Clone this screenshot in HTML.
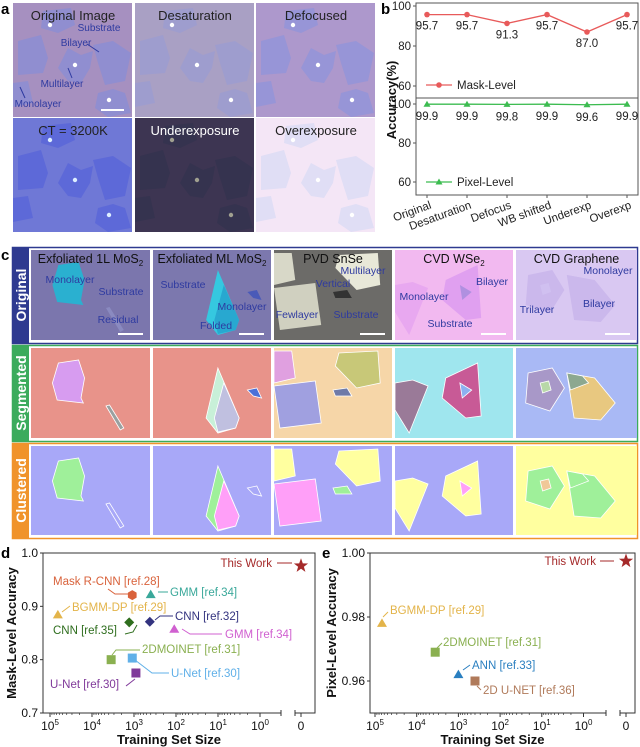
<!DOCTYPE html>
<html><head><meta charset="utf-8"><style>
html,body{margin:0;padding:0;background:#fff;}
svg{display:block;font-family:"Liberation Sans",Arial,sans-serif;}
</style></head><body>
<svg id="fig" width="640" height="747" viewBox="0 0 640 747" xmlns="http://www.w3.org/2000/svg">
<g id="pa"></g>
<g id="pb"></g>
<g id="pc"></g>
<g id="pd"></g>
<g id="pe"></g>
</svg>
<script>
// ---- Panel b data ----
const bCategories = ["Original","Desaturation","Defocus","WB shifted","Underexp","Overexp"];
const bMask = [95.7,95.7,91.3,95.7,87.0,95.7];
const bPixel = [99.9,99.9,99.8,99.9,99.6,99.9];
const bTicks = [60,80,100];
// ---- Panel d data ----
const dNames = ["This Work","Mask R-CNN [ref.28]","GMM [ref.34]","BGMM-DP [ref.29]","CNN [ref.35]","CNN [ref.32]","GMM [ref.34]","2DMOINET [ref.31]","U-Net [ref.30]","U-Net [ref.30]"];
const dSizes = [0,1100,400,65000,1300,420,110,3500,1100,900];
const dAcc = [0.976,0.921,0.922,0.884,0.870,0.871,0.857,0.800,0.803,0.775];
const dYTicks = [0.7,0.8,0.9,1.0];
// ---- Panel e data ----
const eNames = ["This Work","BGMM-DP [ref.29]","2DMOINET [ref.31]","ANN [ref.33]","2D U-NET [ref.36]"];
const eSizes = [0,68000,3600,1000,400];
const eAcc = [0.9975,0.978,0.969,0.962,0.960];
const eYTicks = [0.96,0.98,1.00];
const xExponents = [5,4,3,2,1,0];

const NS="http://www.w3.org/2000/svg";
function el(parent,tag,attrs,text){const e=document.createElementNS(NS,tag);for(const k in attrs)e.setAttribute(k,attrs[k]);if(text!==undefined)e.textContent=text;parent.appendChild(e);return e;}

// ============ Panel a ============
const pa=document.getElementById('pa');
let t=el(pa,'text',{x:1,y:14,'font-size':15,'font-weight':'bold'},'a');


const aImgs=[
 {x:13,y:3,bg:'#a690c0',fl:'#8c8ed2',dot:'#ffffff',lab:'Original Image',tc:'#222'},
 {x:135,y:3,bg:'#a9a0c4',fl:'#9c9cd0',dot:'#ffffff',lab:'Desaturation',tc:'#222'},
 {x:256,y:3,bg:'#ad98cc',fl:'#9394d8',dot:'#ffffff',lab:'Defocused',tc:'#222'},
 {x:13,y:118,bg:'#6f78d6',fl:'#5a66d8',dot:'#ddeeff',lab:'CT = 3200K',tc:'#222'},
 {x:135,y:118,bg:'#3d3552',fl:'#34334f',dot:'#a0a090',lab:'Underexposure',tc:'#fff'},
 {x:256,y:118,bg:'#f4e6f6',fl:'#dcdcf4',dot:'#ffffff',lab:'Overexposure',tc:'#222'}];
const flakes=[
 [[30,8],[58,5],[62,22],[45,30],[28,25]],
 [[5,38],[28,32],[35,55],[30,70],[5,72]],
 [[55,45],[68,52],[80,48],[77,65],[68,80],[55,78],[45,65]],
 [[80,42],[100,38],[118,50],[112,78],[92,82],[85,60]],
 [[85,90],[100,86],[112,90],[118,110],[95,114],[82,105]],
 [[0,80],[15,78],[20,100],[0,104]]];
const dots=[[37,22],[62,62],[96,97]];
aImgs.forEach((im,i)=>{
 const g=el(pa,'g',{transform:`translate(${im.x},${im.y})`});
 
 
 el(g,'rect',{x:0,y:0,width:119,height:114,fill:im.bg});
 flakes.forEach(f=>el(g,'polygon',{points:f.map(p=>p.join(',')).join(' '),fill:im.fl,opacity:0.85}));
 dots.forEach(d=>el(g,'circle',{cx:d[0],cy:d[1],r:2.2,fill:im.dot}));
 const lt=el(g,'text',{x:60,y:17,'text-anchor':'middle','font-size':13,fill:im.tc},im.lab);
 
 
});
[['Substrate',99,31],['Bilayer',76,46],['Multilayer',62,87],['Monolayer',38,107]].forEach(a=>{
 const tt=el(pa,'text',{x:a[1],y:a[2],'text-anchor':'middle','font-size':10,fill:'#2e3aa0'},a[0]);
 
 
});
el(pa,'line',{x1:87,y1:44,x2:99,y2:52,stroke:'#2e3aa0','stroke-width':1});
el(pa,'line',{x1:68,y1:68,x2:72,y2:78,stroke:'#2e3aa0','stroke-width':1});
el(pa,'line',{x1:20,y1:87,x2:25,y2:98,stroke:'#2e3aa0','stroke-width':1});
el(pa,'rect',{x:101,y:109,width:23,height:2,fill:'#fff'});

// ============ Panel b ============
const pb=document.getElementById('pb');
const bL=416,bR=638,bTop=3,bMid=98,bBot=195;
const bx=i=>427+i*40;
const byTop=v=>6+(100-v)*2;
const byBot=v=>104+(100-v)*1.95;
t=el(pb,'text',{x:381,y:14,'font-size':15,'font-weight':'bold'},'b');


el(pb,'rect',{x:bL,y:bTop,width:bR-bL,height:bBot-bTop,fill:'none',stroke:'#555','stroke-width':1});
el(pb,'line',{x1:bL,y1:bMid,x2:bR,y2:bMid,stroke:'#555','stroke-width':1});
bTicks.forEach(v=>{
 [[byTop(v)],[byBot(v)]].forEach(([y])=>{
  el(pb,'line',{x1:bL-3,y1:y,x2:bL,y2:y,stroke:'#555'});
  const tl=el(pb,'text',{x:bL-5,y:y+4,'text-anchor':'end','font-size':11.5,fill:'#222'},v);
  
  
 });
});
t=el(pb,'text',{x:0,y:0,transform:'translate(396,100) rotate(-90)','text-anchor':'middle','font-size':13,'font-weight':'bold',fill:'#111'},'Accuracy(%)');


bCategories.forEach((c,i)=>{
 el(pb,'line',{x1:bx(i),y1:bBot,x2:bx(i),y2:bBot+3,stroke:'#555'});
 const tl=el(pb,'text',{x:0,y:0,transform:`translate(${bx(i)+5},${bBot+13}) rotate(-20)`,'text-anchor':'end','font-size':11.5,fill:'#222'},c);
 
 
});
el(pb,'polyline',{points:bMask.map((v,i)=>bx(i)+','+byTop(v)).join(' '),fill:'none',stroke:'#e85a5a','stroke-width':1.3});
bMask.forEach((v,i)=>{
 const c=el(pb,'circle',{cx:bx(i),cy:byTop(v),r:2.8,fill:'#e85a5a'});
 
 
 const tl=el(pb,'text',{x:bx(i),y:byTop(v)+15,'text-anchor':'middle','font-size':11.5,fill:'#222'},v.toFixed(1));
 
 
});
el(pb,'polyline',{points:bPixel.map((v,i)=>bx(i)+','+byBot(v)).join(' '),fill:'none',stroke:'#3cbc50','stroke-width':1.3});
bPixel.forEach((v,i)=>{
 const x=bx(i),y=byBot(v);
 const p=el(pb,'polygon',{points:`${x},${y-3.5} ${x+3.5},${y+2.5} ${x-3.5},${y+2.5}`,fill:'#3cbc50'});
 
 
 const tl=el(pb,'text',{x:x,y:y+16,'text-anchor':'middle','font-size':11.5,fill:'#222'},v.toFixed(1));
 
 
});
let lg=el(pb,'g',{});


el(lg,'line',{x1:426,y1:85,x2:452,y2:85,stroke:'#e85a5a','stroke-width':1.3});
el(lg,'circle',{cx:439,cy:85,r:2.8,fill:'#e85a5a'});
el(lg,'text',{x:457,y:89,'font-size':11.5,fill:'#222'},'Mask-Level');
lg=el(pb,'g',{});


el(lg,'line',{x1:426,y1:182,x2:452,y2:182,stroke:'#3cbc50','stroke-width':1.3});
el(lg,'polygon',{points:'439,178.5 442.5,184.5 435.5,184.5',fill:'#3cbc50'});
el(lg,'text',{x:457,y:186,'font-size':11.5,fill:'#222'},'Pixel-Level');

// ============ Panel c ============
const pc=document.getElementById('pc');
t=el(pc,'text',{x:1,y:260,'font-size':15,'font-weight':'bold'},'c');


const rows=[{y:247,h:96,col:'#2e3a90',lab:'Original'},{y:345,h:96,col:'#3bab5c',lab:'Segmented'},{y:443,h:95,col:'#f0932b',lab:'Clustered'}];
const colsX=[31,153,274,395,516];
const colW=[119,118,118,118,121];
const origBg=['#7b76ad','#7c78ae','#6c6b68','#f2b9f0','#d9c8f2'];
const segBg=['#e8938a','#e8938a','#f6d6a8','#9fe6ee','#a9b9f5'];
const cluBg=['#a8a8f8','#a8a8f8','#a8a8f8','#a8a8f8','#ffff9f'];
const titles=['Exfoliated 1L MoS','Exfoliated ML MoS','PVD SnSe','CVD WSe','CVD Graphene'];
const subs=['2','2','','2',''];
const shapes=[
 [[[[23,15],[40,12],[45,30],[42,50],[44,55],[22,52],[18,35]],'#2ab0d0','#d79cf0','#9ff09a'],[[[63,58],[66,57],[78,80],[75,82]],'#8a8ac0','#9aa0a0','#a8a8f8']],
 [[[[55,20],[73,70],[70,80],[55,85],[45,70]],'#35c8e0','#c8f0d8','#9ff09a'],[[[60,35],[73,70],[70,80],[55,84],[52,70]],'#28a8d0','#c0c0e0','#ff9ff8'],[[[80,42],[88,40],[92,50],[85,48]],'#4a5ab8','#4a70d8','#a8a8f8']],
 [[[[0,3],[15,3],[18,30],[0,35]],'#d8d8c8','#e0a0e0','#ffff9f'],[[[0,38],[35,33],[40,75],[5,80]],'#d0d0c0','#a0a0e0','#ff9ff8'],[[[55,5],[88,3],[90,35],[70,40],[52,18]],'#e8e8d8','#c8c878','#ffff9f'],[[[50,42],[62,40],[66,48],[52,48]],'#333','#6e7aa8','#9ff09a']],
 [[[[0,35],[15,32],[28,38],[12,85],[0,62]],'#e8a8f0','#9a7a98','#ffff9f'],[[[43,30],[70,15],[73,68],[60,70],[40,50]],'#e0a0f0','#c85a96','#ffff9f'],[[[55,35],[65,42],[57,50]],'#b090e0','#8cb0f0','#ff9ff8']],
 [[[[10,25],[30,20],[40,40],[28,63],[8,55]],'#cbb8ec','#a898c8','#9ff09a'],[[[20,35],[27,33],[29,42],[22,45]],'#d0c0f0','#b8d8a8','#f0c898'],[[[42,25],[65,30],[82,55],[70,72],[48,70]],'#cbb8ec','#e8c880','#9ff09a'],[[[42,25],[55,28],[60,35],[45,42]],'#cbb8ec','#8ca890','#9ff09a']]
];
rows.forEach((r,ri)=>{
 const g=el(pc,'g',{});
 
 
 el(g,'rect',{x:12.5,y:r.y+0.5,width:625,height:r.h,fill:'#fff',stroke:r.col,'stroke-width':1.5});
 el(g,'rect',{x:12,y:r.y,width:17,height:r.h+1,fill:r.col});
 const rl=el(g,'text',{x:0,y:0,transform:`translate(26,${r.y+r.h/2}) rotate(-90)`,'text-anchor':'middle','font-size':14,'font-weight':'bold',fill:'#fff'},r.lab);
 
 
 colsX.forEach((cx,ci)=>{
  const cy=r.y+3, ch=r.h-6;
  const cg=el(g,'g',{transform:`translate(${cx},${cy})`});
  
  
  const bg=[origBg,segBg,cluBg][ri][ci];
  el(cg,'rect',{x:0,y:0,width:colW[ci],height:ch,fill:bg});
  shapes[ci].forEach(s=>{
   el(cg,'polygon',{points:s[0].map(p=>p[0]*colW[ci]/100+','+p[1]).join(' '),fill:s[ri+1],stroke:ri?'#fff':'none','stroke-width':0.8});
  });
  if(ri===0){
   const tt=el(cg,'text',{x:colW[ci]/2,y:13,'text-anchor':'middle','font-size':12.5,fill:'#111'});
   
   
   tt.appendChild(document.createTextNode(titles[ci]));
   if(subs[ci]){el(tt,'tspan',{'font-size':8,dy:3},subs[ci]);}
   el(cg,'rect',{x:colW[ci]-32,y:83,width:25,height:2,fill:'#fff'});
  }
 });
});
[['Monolayer',70,283],['Substrate',121,295],['Residual',118,323],['Substrate',183,288],['Monolayer',242,310],['Folded',216,329],['Multilayer',363,274],['Vertical',333,287],['Fewlayer',297,318],['Substrate',356,318],['Bilayer',492,285],['Monolayer',424,300],['Substrate',450,327],['Monolayer',608,274],['Bilayer',599,307],['Trilayer',537,313]].forEach(a=>{
 const tt=el(pc,'text',{x:a[1],y:a[2],'text-anchor':'middle','font-size':10.5,fill:'#2e3aa0'},a[0]);
 
 
});

// ============ Scatter helper ============
function scatter(pid,cfg){
 const g=document.getElementById(pid);
 const X=n=> n===0? cfg.zeroX : cfg.x5 + (5-Math.log10(n))*cfg.dec;
 const Y=v=> cfg.yTop + (cfg.yMax-v)/(cfg.yMax-cfg.yMin)*(cfg.yBot-cfg.yTop);
 const lt=el(g,'text',{x:cfg.labX,y:cfg.yTop+5,'font-size':15,'font-weight':'bold'},cfg.letter);
 
 
 el(g,'rect',{x:cfg.L,y:cfg.yTop,width:cfg.R-cfg.L,height:cfg.yBot-cfg.yTop,fill:'none',stroke:'#333','stroke-width':1});
 el(g,'rect',{x:cfg.brk0,y:cfg.yBot-1,width:cfg.brk1-cfg.brk0,height:3,fill:'#fff'});
 el(g,'line',{x1:cfg.brk0,y1:cfg.yBot-3,x2:cfg.brk0,y2:cfg.yBot+3,stroke:'#333'});
 el(g,'line',{x1:cfg.brk1,y1:cfg.yBot-3,x2:cfg.brk1,y2:cfg.yBot+3,stroke:'#333'});
 cfg.yTicks.forEach(v=>{
  el(g,'line',{x1:cfg.L-3,y1:Y(v),x2:cfg.L,y2:Y(v),stroke:'#333'});
  const tl=el(g,'text',{x:cfg.L-5,y:Y(v)+4,'text-anchor':'end','font-size':12,fill:'#111'},v.toFixed(cfg.yDec));
  
  
 });
 xExponents.forEach(e=>{
  const x=X(Math.pow(10,e));
  el(g,'line',{x1:x,y1:cfg.yBot,x2:x,y2:cfg.yBot+4,stroke:'#333'});
  if(e>0){for(let m=2;m<10;m++){const xm=X(Math.pow(10,e-1)*m);el(g,'line',{x1:xm,y1:cfg.yBot,x2:xm,y2:cfg.yBot+2,stroke:'#333','stroke-width':0.7});}}
  const tl=el(g,'text',{x:x,y:cfg.yBot+17,'text-anchor':'middle','font-size':12,fill:'#111'},'10');
  
  
  el(tl,'tspan',{dy:-5,'font-size':8},String(e));
 });
 el(g,'line',{x1:cfg.zeroX,y1:cfg.yBot,x2:cfg.zeroX,y2:cfg.yBot+4,stroke:'#333'});
 let tl=el(g,'text',{x:cfg.zeroX,y:cfg.yBot+17,'text-anchor':'middle','font-size':12,fill:'#111'},'0');
 
 
 tl=el(g,'text',{x:(cfg.L+cfg.R)/2-10,y:cfg.yBot+31,'text-anchor':'middle','font-size':13,'font-weight':'bold',fill:'#111'},'Training Set Size');
 
 
 tl=el(g,'text',{x:0,y:0,transform:`translate(${cfg.yTitleX},${(cfg.yTop+cfg.yBot)/2}) rotate(-90)`,'text-anchor':'middle','font-size':13,'font-weight':'bold',fill:'#111'},cfg.yTitle);
 
 
 cfg.names.forEach((n,i)=>{
  const x=X(cfg.sizes[i]), y=Y(cfg.acc[i]), st=cfg.styles[i], c=st.c;
  let m;
  if(st.m==='star'){let p=[];for(let k=0;k<10;k++){const r=k%2?3:7.5,a=-Math.PI/2+k*Math.PI/5;p.push((x+r*Math.cos(a)).toFixed(1)+','+(y+r*Math.sin(a)).toFixed(1));}m=el(g,'polygon',{points:p.join(' '),fill:c});}
  else if(st.m==='tri') m=el(g,'polygon',{points:`${x},${y-5} ${x+5},${y+3.5} ${x-5},${y+3.5}`,fill:c});
  else if(st.m==='sq') m=el(g,'rect',{x:x-4.5,y:y-4.5,width:9,height:9,fill:c});
  else if(st.m==='dia') m=el(g,'polygon',{points:`${x},${y-5} ${x+5},${y} ${x},${y+5} ${x-5},${y}`,fill:c});
  else {let p=[];for(let k=0;k<6;k++){const a=-Math.PI/2+k*Math.PI/3;p.push((x+5*Math.cos(a)).toFixed(1)+','+(y+5*Math.sin(a)).toFixed(1));}m=el(g,'polygon',{points:p.join(' '),fill:c});}
  
  
  el(g,'polyline',{points:st.lead,fill:'none',stroke:c,'stroke-width':1});
  const at=el(g,'text',{x:st.tx,y:st.ty,'text-anchor':st.anc||'start','font-size':11.5,fill:c},n);
  
  
 });
}
scatter('pd',{letter:'d',labX:1,L:43,R:315,yTop:553,yBot:713,yMin:0.7,yMax:1.0,yTicks:dYTicks,yDec:1,x5:50,dec:42,zeroX:301,brk0:281,brk1:295,yTitleX:16,yTitle:'Mask-Level Accuracy',
 names:dNames,sizes:dSizes,acc:dAcc,styles:[
 {m:'star',c:'#a52a2a',lead:'277,563 292,563',tx:272,ty:567,anc:'end'},
 {m:'hex',c:'#d9623b',lead:'108,589 115,594 133,594',tx:53,ty:585},
 {m:'tri',c:'#3aa89a',lead:'158,592 168,592',tx:170,ty:596},
 {m:'tri',c:'#e3b44a',lead:'62,612 70,606',tx:72,ty:611},
 {m:'dia',c:'#2f6e1e',lead:'125,634 133,632 137,625',tx:53,ty:634},
 {m:'dia',c:'#33337f',lead:'155,620 160,616 173,616',tx:175,ty:620},
 {m:'tri',c:'#d060d0',lead:'182,629 190,634 222,634',tx:225,ty:638},
 {m:'sq',c:'#8ab050',lead:'112,655 116,650 140,650',tx:142,ty:653},
 {m:'sq',c:'#60b0e8',lead:'135,660 152,673 169,673',tx:171,ty:677},
 {m:'sq',c:'#803a9a',lead:'126,686 135,679',tx:50,ty:688}]});
scatter('pe',{letter:'e',labX:322,L:370,R:635,yTop:553,yBot:713,yMin:0.95,yMax:1.0,yTicks:eYTicks,yDec:2,x5:375,dec:41.7,zeroX:626,brk0:606,brk1:620,yTitleX:336,yTitle:'Pixel-Level Accuracy',
 names:eNames,sizes:eSizes,acc:eAcc,styles:[
 {m:'star',c:'#a52a2a',lead:'600,561 614,561',tx:596,ty:565,anc:'end'},
 {m:'tri',c:'#e3b44a',lead:'383,617 388,612',tx:390,ty:614},
 {m:'sq',c:'#8ab050',lead:'437,648 442,643',tx:443,ty:646},
 {m:'tri',c:'#2a7fc0',lead:'463,670 470,665',tx:472,ty:669},
 {m:'sq',c:'#b07a5a',lead:'477,686 481,690',tx:483,ty:694}]});
</script>
</body></html>
